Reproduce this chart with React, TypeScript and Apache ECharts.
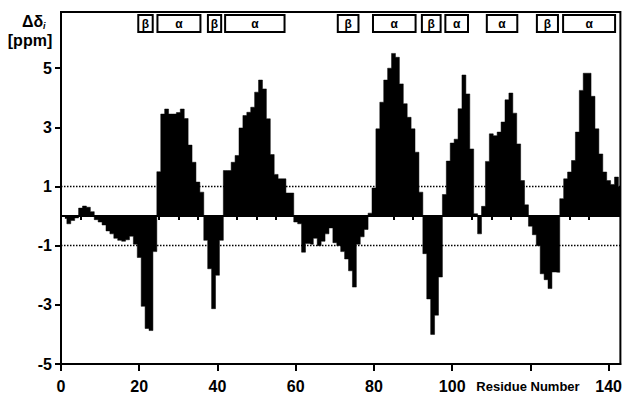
import { useEffect, useRef } from 'react';
import * as echarts from 'echarts';

// Chemical shift deviation per residue (ppm), residues 1..143
const firstResidue = 1;
const shiftValues = [
  -0.08, -0.26, -0.15, -0.06, 0.27, 0.34, 0.3, 0.15, -0.12, -0.2,
  -0.3, -0.5, -0.6, -0.75, -0.82, -0.85, -0.8, -0.68, -0.95, -1.4,
  -3.05, -3.8, -3.87, -1.2, 1.5, 3.45, 3.62, 3.45, 3.45, 3.5,
  3.62, 3.3, 2.4, 1.82, 1.15, 0.81, -0.82, -1.78, -3.13, -2.0,
  -0.82, 1.54, 1.54, 1.82, 2.05, 2.98, 3.4, 3.51, 3.68, 4.19,
  4.6, 4.3, 3.29, 2.08, 1.41, 1.26, 1.26, 0.78, 0.78, -0.2,
  -0.26, -1.22, -0.93, -0.95, -0.75, -1.0, -0.85, -0.6, -0.4, -0.9,
  -1.0, -1.2, -1.45, -1.85, -2.4, -0.95, -0.7, -0.45, 0.1, 0.95,
  2.95, 3.85, 4.6, 5.0, 5.5, 5.37, 4.47, 3.8, 3.34, 2.95,
  2.16, 0.81, -1.27, -2.8, -4.0, -3.35, -2.06, 0.73, 1.86, 2.47,
  2.6, 3.63, 4.77, 4.13, 2.27, 0.08, -0.6, 0.33, 1.85, 2.78,
  2.72, 2.84, 3.18, 3.93, 4.16, 3.48, 2.44, 1.2, 0.38, -0.34,
  -0.63, -1.0, -1.95, -2.15, -2.45, -1.89, -1.9, 0.59, 1.26, 1.49,
  1.88, 2.84, 4.25, 4.83, 4.83, 4.05, 2.95, 2.1, 1.49, 1.2,
  1.07, 1.32, 1.0,
];

// Secondary structure elements (residue ranges)
const ssType = ['β', 'α', 'β', 'α', 'β', 'α', 'β', 'α', 'α', 'β', 'α'];
const ssStart = [19.5, 24.4, 37.3, 41.7, 70.5, 79.5, 92.0, 98.0, 108.6, 121.4, 128.1];
const ssEnd = [23.7, 35.9, 41.2, 57.4, 76.3, 90.9, 97.3, 104.3, 116.9, 127.3, 141.9];

const xMajorTicks = [0, 20, 40, 60, 80, 100, 120, 140];
const xLabelTicks = [0, 20, 40, 60, 80, 100, 140];
const xMinorTicks = [5, 10, 15, 25, 30, 35, 45, 50, 55, 65, 70, 75, 85, 90, 95, 105, 110, 115, 125, 130, 135];
const yTicks = [-5, -3, -1, 1, 3, 5];
const thresholds = [1, -1];

const FONT = '"Liberation Sans", Arial, sans-serif';

export default function App() {
  const ref = useRef<HTMLDivElement>(null);
  useEffect(() => {
    document.body.style.margin = '0';
    const chart = echarts.init(ref.current!, null, { renderer: 'svg' });
    const data = shiftValues.map((v, i) => [firstResidue + i, v]);
    const ssData = ssStart.map((s, i) => [s, ssEnd[i]]);
    chart.setOption({
      animation: false,
      backgroundColor: '#fff',
      grid: {
        left: 61, right: 3, top: 12, bottom: 34,
        show: true, borderColor: '#000', borderWidth: 2, backgroundColor: 'transparent',
      },
      xAxis: [
        {
          type: 'value', min: 0, max: 143, position: 'bottom',
          axisLine: { show: true, onZero: false, lineStyle: { color: '#000', width: 2 } },
          axisTick: { show: true, customValues: xMajorTicks, length: 7, lineStyle: { color: '#000', width: 2 } },
          axisLabel: {
            customValues: xLabelTicks, margin: 14, color: '#000',
            fontFamily: FONT, fontWeight: 'bold', fontSize: 16,
          },
          splitLine: { show: false },
        },
        {
          type: 'value', min: 0, max: 143, position: 'bottom', offset: 0,
          axisLine: { show: false },
          axisTick: { show: true, customValues: xMinorTicks, length: 4, lineStyle: { color: '#000', width: 2 } },
          axisLabel: { show: false },
          splitLine: { show: false },
        },
      ],
      yAxis: {
        type: 'value', min: -5, max: 6.9,
        axisLine: { show: true, onZero: false, lineStyle: { color: '#000', width: 2 } },
        axisTick: { show: true, customValues: yTicks, length: 6, lineStyle: { color: '#000', width: 2 } },
        axisLabel: {
          customValues: yTicks, margin: 9, color: '#000',
          fontFamily: FONT, fontWeight: 'bold', fontSize: 16,
        },
        splitLine: { show: false },
      },
      series: [
        {
          type: 'line',
          step: 'middle',
          data,
          symbol: 'none',
          xAxisIndex: 0,
          lineStyle: { color: '#000', width: 0.5 },
          areaStyle: { color: '#000', opacity: 1 },
          z: 2,
          markLine: {
            silent: true,
            symbol: 'none',
            label: { show: false },
            data: [
              ...thresholds.map((t) => ({ yAxis: t, lineStyle: { color: '#000', width: 1.3, type: [1.5, 1.5] } })),
              { yAxis: 0, lineStyle: { color: '#000', width: 2, type: 'solid' } },
            ],
          },
        },
        {
          type: 'custom',
          xAxisIndex: 0,
          data: ssData,
          encode: { x: [0, 1] },
          z: 5,
          renderItem: (params: any, api: any) => {
            const i = params.dataIndex;
            const tl = api.coord([api.value(0), 6.83]);
            const br = api.coord([api.value(1), 6.19]);
            return {
              type: 'group',
              children: [
                {
                  type: 'rect',
                  shape: { x: tl[0] + 1, y: tl[1] + 1, width: br[0] - tl[0] - 2, height: br[1] - tl[1] - 2 },
                  style: { fill: '#fff', stroke: '#000', lineWidth: 2 },
                },
                {
                  type: 'text',
                  style: {
                    text: ssType[i],
                    x: (tl[0] + br[0]) / 2,
                    y: (tl[1] + br[1]) / 2,
                    align: 'center',
                    verticalAlign: 'middle',
                    fontFamily: FONT,
                    fontWeight: 'bold',
                    fontSize: 12,
                    fill: '#000',
                  },
                },
              ],
            };
          },
        },
      ],
      graphic: [
        {
          type: 'text', x: 22, y: 21,
          style: { text: 'Δδ', fontFamily: FONT, fontWeight: 'bold', fontSize: 16, fill: '#000', verticalAlign: 'middle' },
        },
        {
          type: 'text', x: 43, y: 26,
          style: { text: 'i', fontFamily: FONT, fontWeight: 'bold', fontStyle: 'italic', fontSize: 9, fill: '#000', verticalAlign: 'middle' },
        },
        {
          type: 'text', x: 30, y: 40,
          style: { text: '[ppm]', fontFamily: FONT, fontWeight: 'bold', fontSize: 16, fill: '#000', align: 'center', verticalAlign: 'middle' },
        },
        {
          type: 'text', x: 528, y: 386,
          style: { text: 'Residue Number', fontFamily: FONT, fontWeight: 'bold', fontSize: 13, fill: '#000', align: 'center', verticalAlign: 'middle' },
        },
      ],
    });
    return () => chart.dispose();
  }, []);
  return <div ref={ref} style={{ width: 625, height: 398 }} />;
}
